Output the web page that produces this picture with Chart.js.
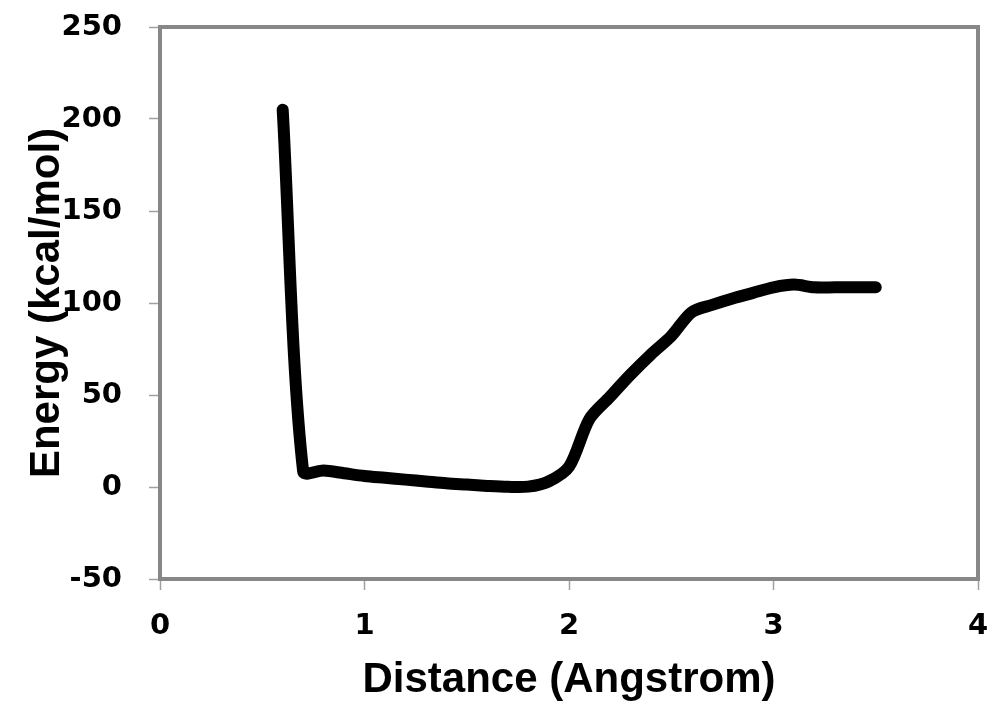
<!DOCTYPE html>
<html>
<head>
<meta charset="utf-8">
<script src="https://cdn.jsdelivr.net/npm/chart.js@4/dist/chart.umd.min.js"></script>
<style>
  html, body { margin: 0; padding: 0; background: #ffffff; }
  #c { display: block; }
</style>
</head>
<body>
<canvas id="c" width="992" height="706"></canvas>
<script>
// Data
const distance = [0.6, 0.7, 0.8, 0.9, 1.0, 1.1, 1.2, 1.3, 1.4, 1.5, 1.6, 1.7, 1.8, 1.9, 2.0, 2.1, 2.2, 2.3, 2.4, 2.5, 2.6, 2.7, 2.8, 2.9, 3.0, 3.1, 3.2, 3.3, 3.4, 3.5];
const energy   = [205, 8.5, 9, 7.5, 6, 5, 4, 3, 2, 1.3, 0.6, 0.1, 0.2, 3, 11, 37, 49, 61, 72, 82, 95, 99, 102.5, 105.5, 108.5, 110, 108.5, 108.5, 108.5, 108.5];
const xTitle = 'Distance (Angstrom)';
const yTitle = 'Energy (kcal/mol)';
const xRange = [0, 4];
const yRange = [-50, 250];

const points = distance.map((d, i) => ({ x: d, y: energy[i] }));

const framePlugin = {
  id: 'frame',
  beforeDatasetsDraw(chart) {
    const { ctx, chartArea: a } = chart;
    ctx.save();
    ctx.strokeStyle = '#878787';
    ctx.lineWidth = 4;
    ctx.strokeRect(a.left, a.top, a.right - a.left, a.bottom - a.top);
    ctx.restore();
  }
};

const tickFont = { family: '"DejaVu Sans", sans-serif', weight: 'bold', size: 29 };
const titleFont = { family: '"Liberation Sans", Arial, sans-serif', weight: 'bold', size: 42 };

function noOverhang(s) {
  s.paddingTop = 0; s.paddingBottom = 0; s.paddingLeft = 0; s.paddingRight = 0;
}

new Chart(document.getElementById('c'), {
  type: 'scatter',
  data: {
    datasets: [{
      data: points,
      showLine: true,
      borderColor: '#000000',
      borderWidth: 12,
      borderCapStyle: 'round',
      borderJoinStyle: 'round',
      tension: 0.3,
      pointRadius: 0,
      pointHoverRadius: 0,
      fill: false
    }]
  },
  options: {
    responsive: false,
    animation: false,
    devicePixelRatio: 1,
    layout: { padding: { top: 27, right: 14, left: 0, bottom: 0 } },
    plugins: { legend: { display: false }, tooltip: { enabled: false } },
    scales: {
      x: {
        type: 'linear',
        min: xRange[0], max: xRange[1],
        afterFit(s) { s.height = 127; noOverhang(s); },
        border: { display: false },
        grid: { drawOnChartArea: false, drawTicks: true, tickLength: 11, tickColor: '#a0a0a0', tickWidth: 1.5 },
        ticks: { stepSize: 1, color: '#000000', font: tickFont, padding: 19, maxRotation: 0 },
        title: { display: true, text: xTitle, color: '#000000', font: titleFont, padding: { top: 0, bottom: 0 } }
      },
      y: {
        type: 'linear',
        min: yRange[0], max: yRange[1],
        afterFit(s) { s.width = 160; noOverhang(s); },
        border: { display: false },
        grid: { drawOnChartArea: false, drawTicks: true, tickLength: 11, tickColor: '#a0a0a0', tickWidth: 1.5 },
        ticks: { stepSize: 50, color: '#000000', font: tickFont, padding: 27 },
        title: { display: true, text: yTitle, color: '#000000', font: titleFont, padding: { top: 22, bottom: 0 } }
      }
    }
  },
  plugins: [framePlugin]
});
</script>
</body>
</html>
